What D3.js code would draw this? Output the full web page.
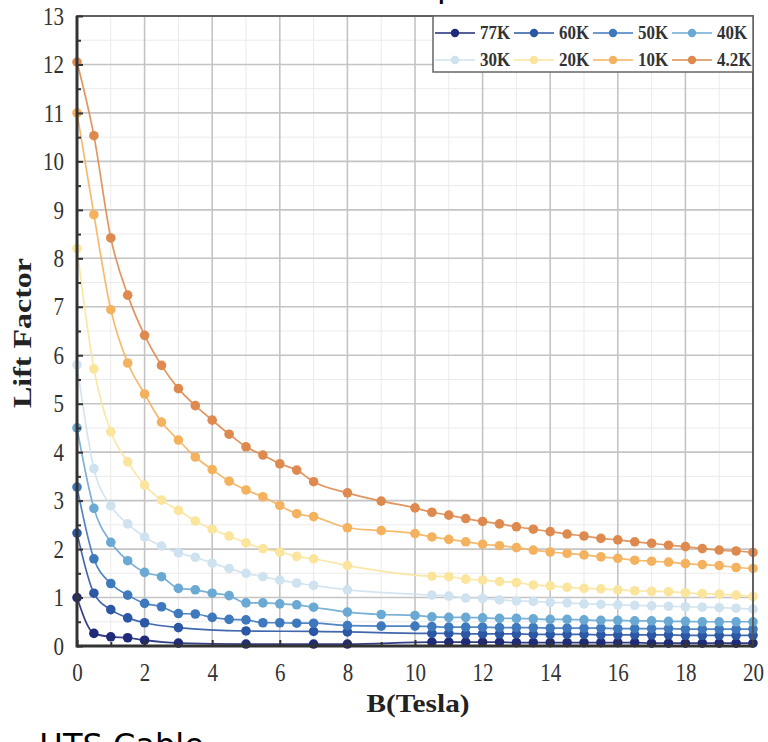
<!DOCTYPE html>
<html>
<head>
<meta charset="utf-8">
<script src="https://cdn.jsdelivr.net/npm/d3@7"></script>
<style>
  body { margin: 0; background: #fff; }
  svg { display: block; }
</style>
</head>
<body>
<svg id="chart"></svg>
<script>
var width = 768;
var height = 742;
var margin = {top: 16, right: 15, bottom: 96, left: 77};

// field values (Tesla) shared by all curves
var bField = [0, 0.5, 1, 1.5, 2, 2.5, 3, 3.5, 4, 4.5, 5, 5.5, 6, 6.5, 7, 8, 9, 10,
  10.5, 11, 11.5, 12, 12.5, 13, 13.5, 14, 14.5, 15, 15.5, 16, 16.5, 17, 17.5, 18, 18.5, 19, 19.5, 20];

// lift factor per temperature, null = no marker at that field
var lift77 = [1.0, 0.26, 0.19, 0.17, 0.12, null, 0.06, null, null, null, 0.04, null, null, null, 0.04, 0.04, null, null,
  0.08, 0.08, 0.08, 0.08, 0.08, 0.07, 0.07, 0.07, 0.07, 0.07, 0.07, 0.07, 0.07, 0.06, 0.06, 0.06, 0.06, 0.06, 0.06, 0.06];
var lift60 = [2.33, 1.09, 0.75, 0.58, 0.48, null, 0.38, null, null, null, 0.31, null, null, null, 0.3, 0.29, null, null,
  0.26, 0.26, 0.25, 0.25, 0.25, 0.25, 0.24, 0.24, 0.24, 0.24, 0.23, 0.23, 0.23, 0.23, 0.23, 0.22, 0.22, 0.22, 0.22, 0.22];
var lift50 = [3.28, 1.8, 1.29, 1.05, 0.88, 0.81, 0.67, 0.66, 0.59, 0.55, 0.54, 0.48, 0.48, 0.47, 0.47, 0.42, 0.41, 0.41,
  0.4, 0.39, 0.39, 0.39, 0.38, 0.38, 0.38, 0.37, 0.37, 0.37, 0.37, 0.36, 0.36, 0.36, 0.36, 0.35, 0.35, 0.35, 0.35, 0.35];
var lift40 = [4.5, 2.84, 2.14, 1.76, 1.52, 1.43, 1.19, 1.16, 1.09, 1.04, 0.89, 0.89, 0.87, 0.85, 0.8, 0.7, 0.65, 0.63,
  0.6, 0.59, 0.59, 0.58, 0.57, 0.57, 0.56, 0.55, 0.55, 0.54, 0.53, 0.53, 0.52, 0.52, 0.51, 0.51, 0.5, 0.5, 0.5, 0.5];
var lift30 = [5.8, 3.66, 2.89, 2.52, 2.25, 2.06, 1.92, 1.83, 1.71, 1.6, 1.5, 1.43, 1.36, 1.3, 1.25, 1.16, null, null,
  1.05, 1.03, 0.99, 0.98, 0.95, 0.93, 0.92, 0.9, 0.89, 0.87, 0.86, 0.85, 0.84, 0.83, 0.82, 0.81, 0.8, 0.79, 0.78, 0.76];
var lift20 = [8.2, 5.72, 4.42, 3.8, 3.32, 3.01, 2.8, 2.58, 2.41, 2.27, 2.13, 2.01, 1.94, 1.85, 1.8, 1.66, null, null,
  1.44, 1.43, 1.38, 1.36, 1.33, 1.31, 1.26, 1.24, 1.21, 1.19, 1.18, 1.16, 1.14, 1.13, 1.12, 1.1, 1.08, 1.07, 1.05, 1.02];
var lift10 = [11.0, 8.9, 6.94, 5.84, 5.2, 4.62, 4.25, 3.9, 3.64, 3.4, 3.22, 3.08, 2.9, 2.73, 2.67, 2.44, 2.38, 2.32,
  2.25, 2.2, 2.15, 2.1, 2.07, 2.03, 1.98, 1.94, 1.91, 1.88, 1.84, 1.81, 1.77, 1.75, 1.73, 1.7, 1.68, 1.66, 1.62, 1.6];
var lift4 = [12.05, 10.53, 8.42, 7.24, 6.41, 5.79, 5.31, 4.96, 4.66, 4.37, 4.11, 3.94, 3.76, 3.63, 3.39, 3.16, 2.99, 2.85,
  2.76, 2.7, 2.63, 2.57, 2.52, 2.46, 2.41, 2.36, 2.31, 2.27, 2.22, 2.19, 2.15, 2.12, 2.08, 2.05, 2.01, 1.98, 1.96, 1.93];

var seriesNames = ["77K", "60K", "50K", "40K", "30K", "20K", "10K", "4.2K"];
var seriesValues = [lift77, lift60, lift50, lift40, lift30, lift20, lift10, lift4];
var seriesColors = ["#1f2a78", "#2c57a5", "#3e78bd", "#6aa9d3", "#cfe2ef", "#fbe49b", "#f4b25e", "#de8a4f"];

var yTicks = d3.range(0, 14, 1);
var yMinor = d3.range(0.5, 13, 1);
var xTicks = d3.range(0, 21, 2);
var xMinor = d3.range(1, 20, 2);

var svg = d3.select("#chart")
  .attr("width", width)
  .attr("height", height);

var x = d3.scaleLinear().domain([0, 20]).range([margin.left, width - margin.right]);
var y = d3.scaleLinear().domain([0, 13]).range([height - margin.bottom, margin.top]);

// grid
var grid = svg.append("g");
grid.selectAll(".vminor").data(xMinor).enter().append("line")
  .attr("x1", d => x(d)).attr("x2", d => x(d))
  .attr("y1", y(0)).attr("y2", y(13))
  .attr("stroke", "#ebebeb").attr("stroke-width", 1);
grid.selectAll(".hminor").data(yMinor).enter().append("line")
  .attr("x1", x(0)).attr("x2", x(20))
  .attr("y1", d => y(d)).attr("y2", d => y(d))
  .attr("stroke", "#ebebeb").attr("stroke-width", 1);
grid.selectAll(".vmajor").data(xTicks).enter().append("line")
  .attr("x1", d => x(d)).attr("x2", d => x(d))
  .attr("y1", y(0)).attr("y2", y(13))
  .attr("stroke", "#c4c4c4").attr("stroke-width", 1.6);
grid.selectAll(".hmajor").data(yTicks).enter().append("line")
  .attr("x1", x(0)).attr("x2", x(20))
  .attr("y1", d => y(d)).attr("y2", d => y(d))
  .attr("stroke", "#c4c4c4").attr("stroke-width", 1.6);

// curves
var line = d3.line()
  .x(d => x(d.b))
  .y(d => y(d.v))
  .curve(d3.curveMonotoneX);

seriesValues.forEach(function(vals, i) {
  var pts = [];
  vals.forEach(function(v, j) {
    if (v !== null) pts.push({b: bField[j], v: v});
  });
  var g = svg.append("g");
  g.append("path")
    .attr("d", line(pts))
    .attr("fill", "none")
    .attr("stroke", seriesColors[i])
    .attr("stroke-opacity", 0.9)
    .attr("stroke-width", 1.7);
  g.selectAll("circle").data(pts).enter().append("circle")
    .attr("cx", d => x(d.b))
    .attr("cy", d => y(d.v))
    .attr("r", 4.8)
    .attr("fill", seriesColors[i]);
});

// frame
svg.append("rect")
  .attr("x", x(0)).attr("y", y(13))
  .attr("width", x(20) - x(0)).attr("height", y(0) - y(13))
  .attr("fill", "none").attr("stroke", "#555").attr("stroke-width", 1.8);
svg.append("line")
  .attr("x1", x(0)).attr("x2", x(0)).attr("y1", y(13)).attr("y2", y(0) + 1.5)
  .attr("stroke", "#333").attr("stroke-width", 3);
svg.append("line")
  .attr("x1", x(0)).attr("x2", x(20)).attr("y1", y(0)).attr("y2", y(0))
  .attr("stroke", "#333").attr("stroke-width", 3);

// axes, ticks pointing inwards
var yAxis = d3.axisLeft(y).tickValues(yTicks).tickSize(-6).tickPadding(13);
var yAxisMinor = d3.axisLeft(y).tickValues(yMinor).tickSize(-4).tickFormat("");
var xAxis = d3.axisBottom(x).tickValues(xTicks).tickSize(-6).tickPadding(14);
var xAxisMinor = d3.axisBottom(x).tickValues(xMinor).tickSize(-4).tickFormat("");

function styleAxis(g) {
  g.select(".domain").remove();
  g.selectAll(".tick line").attr("stroke", "#333").attr("stroke-width", 2);
  // labels in the figure are a little taller than wide
  g.selectAll(".tick text")
    .attr("fill", "#333")
    .attr("transform", "scale(1,1.22)")
    .style("font-family", "'Liberation Serif', 'Times New Roman', serif")
    .style("font-size", "21px");
}

svg.append("g").attr("transform", "translate(" + [x(0), 0] + ")").call(yAxis).call(styleAxis);
svg.append("g").attr("transform", "translate(" + [x(0), 0] + ")").call(yAxisMinor).call(styleAxis);
svg.append("g").attr("transform", "translate(" + [0, y(0)] + ")").call(xAxis).call(styleAxis);
svg.append("g").attr("transform", "translate(" + [0, y(0)] + ")").call(xAxisMinor).call(styleAxis);

// axis titles
svg.append("text")
  .attr("transform", "translate(418,712) scale(1,1.15)")
  .attr("text-anchor", "middle")
  .attr("textLength", 103).attr("lengthAdjust", "spacingAndGlyphs")
  .style("font-family", "'Liberation Serif', 'Times New Roman', serif")
  .style("font-weight", "bold").style("font-size", "22px")
  .attr("fill", "#222")
  .text("B(Tesla)");

svg.append("text")
  .attr("transform", "translate(31,333) rotate(-90)")
  .attr("text-anchor", "middle")
  .attr("textLength", 150).attr("lengthAdjust", "spacingAndGlyphs")
  .style("font-family", "'Liberation Serif', 'Times New Roman', serif")
  .style("font-weight", "bold").style("font-size", "26px")
  .attr("fill", "#222")
  .text("Lift Factor");

// legend
var legend = svg.append("g");
legend.append("rect")
  .attr("x", 433).attr("y", 16).attr("width", 320).attr("height", 56)
  .attr("fill", "#fff").attr("stroke", "#666").attr("stroke-width", 1.5);

seriesNames.forEach(function(name, i) {
  var col = i % 4;
  var row = Math.floor(i / 4);
  var cx = 455 + col * 79;
  var cy = 33 + row * 27;
  legend.append("line")
    .attr("x1", cx - 20).attr("x2", cx + 20).attr("y1", cy).attr("y2", cy)
    .attr("stroke", seriesColors[i]).attr("stroke-width", 1.6);
  legend.append("circle")
    .attr("cx", cx).attr("cy", cy).attr("r", 4.2)
    .attr("fill", seriesColors[i]);
  legend.append("text")
    .attr("transform", "translate(" + [cx + 25, cy + 6] + ") scale(1,1.15)")
    .style("font-family", "'Liberation Serif', 'Times New Roman', serif")
    .style("font-weight", "bold").style("font-size", "17px")
    .attr("fill", "#333")
    .text(name);
});

// cropped slide texts around the figure (cut off in the source too)
svg.append("text")
  .attr("x", 437).attr("y", -3)
  .style("font-family", "'DejaVu Sans', sans-serif").style("font-size", "32px")
  .attr("fill", "#000")
  .text("p");

svg.append("text")
  .attr("x", 39).attr("y", 756)
  .style("font-family", "'DejaVu Sans', sans-serif").style("font-size", "32px")
  .attr("fill", "#000")
  .text("HTS Cable");
</script>
</body>
</html>
